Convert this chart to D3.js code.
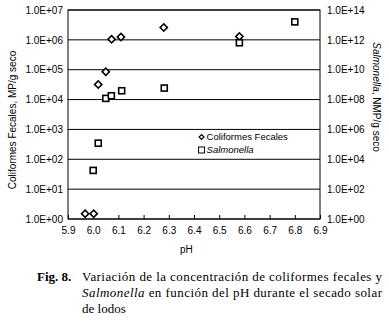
<!DOCTYPE html>
<html>
<head>
<meta charset="utf-8">
<script src="https://cdn.jsdelivr.net/npm/d3@7"></script>
<style>
  body { margin: 0; background: #fff; }
  #chart { width: 389px; height: 323px; }
  svg text { font-family: "Liberation Sans", Arial, sans-serif; fill: #000; }
  svg text.caption { font-family: "Liberation Serif", "Times New Roman", serif; font-size: 13px; }
</style>
</head>
<body>
<div id="chart"></div>
<script>
// pH and counts
const coliPH = [5.968, 6.002, 6.02, 6.05, 6.073, 6.11, 6.28, 6.58];
const coliVal = [1.5, 1.5, 3.2e4, 8.5e4, 1.05e6, 1.25e6, 2.6e6, 1.3e6];
const salmPH = [6.0, 6.02, 6.05, 6.072, 6.113, 6.282, 6.58, 6.80];
const salmVal = [1.8e3, 1.2e5, 1.2e8, 1.8e8, 3.9e8, 5.9e8, 6.4e11, 1.6e13];
const xTicks = [5.9, 6.0, 6.1, 6.2, 6.3, 6.4, 6.5, 6.6, 6.7, 6.8, 6.9];
const leftTicks = [1e0, 1e1, 1e2, 1e3, 1e4, 1e5, 1e6, 1e7];
const rightTicks = [1e0, 1e2, 1e4, 1e6, 1e8, 1e10, 1e12, 1e14];

const width = 389, height = 323;
const margin = { top: 10, left: 68, right: 69, bottom: 104 };
const plotW = width - margin.left - margin.right;
const plotH = height - margin.top - margin.bottom;

const svg = d3.select("#chart").append("svg")
  .attr("width", width)
  .attr("height", height);

const g = svg.append("g")
  .attr("transform", `translate(${margin.left},${margin.top})`);

const x = d3.scaleLinear().domain([5.9, 6.9]).range([0, plotW]);
const yL = d3.scaleLog().domain([1, 1e7]).range([plotH, 0]);
const yR = d3.scaleLog().domain([1, 1e14]).range([plotH, 0]);

const sci = d => {
  const e = Math.round(Math.log10(d));
  return "1.0E+" + (e < 10 ? "0" + e : e);
};

// gridlines
g.selectAll(".grid").data(leftTicks).enter().append("line")
  .attr("x1", 0).attr("x2", plotW)
  .attr("y1", d => yL(d)).attr("y2", d => yL(d))
  .attr("stroke", "#000").attr("stroke-width", 1);

// plot frame
g.append("rect").attr("width", plotW).attr("height", plotH)
  .attr("fill", "none").attr("stroke", "#000").attr("stroke-width", 1);

// x axis, ticks pointing inward
const xAxis = g.append("g").attr("transform", `translate(0,${plotH})`)
  .call(d3.axisBottom(x).tickValues(xTicks).tickFormat(d3.format(".1f")).tickSizeInner(-4).tickSizeOuter(0).tickPadding(8));
xAxis.select(".domain").remove();
xAxis.selectAll("text").style("font-size", "10px");

const lAxis = g.append("g")
  .call(d3.axisLeft(yL).tickValues(leftTicks).tickFormat(sci).tickSize(0).tickPadding(5));
lAxis.select(".domain").remove();
lAxis.selectAll("text").style("font-size", "10px");

const rAxis = g.append("g").attr("transform", `translate(${plotW},0)`)
  .call(d3.axisRight(yR).tickValues(rightTicks).tickFormat(sci).tickSize(0).tickPadding(7));
rAxis.select(".domain").remove();
rAxis.selectAll("text").style("font-size", "10px");

// axis titles
g.append("text")
  .attr("transform", `translate(${12 - margin.left},${110}) rotate(-90)`)
  .attr("text-anchor", "middle").attr("dy", "0.35em")
  .style("font-size", "10px")
  .text("Coliformes Fecales, MP/g seco");

const rt = g.append("text")
  .attr("transform", `translate(${plotW + 56},${87}) rotate(90)`)
  .attr("text-anchor", "middle").attr("dy", "0.35em")
  .style("font-size", "10px");
rt.append("tspan").style("font-style", "italic").text("Salmonella");
rt.append("tspan").text(", NMP/g seco");

g.append("text")
  .attr("x", x(6.37)).attr("y", plotH + 34)
  .attr("text-anchor", "middle")
  .style("font-size", "10px")
  .text("pH");

// markers: diamonds are squares turned 45 degrees
const diamond = d3.symbol().type(d3.symbolSquare).size(26);
g.selectAll(".coli").data(coliPH).enter().append("path")
  .attr("class", "coli")
  .attr("d", diamond)
  .attr("transform", (d, i) => `translate(${x(d)},${yL(coliVal[i])}) rotate(45)`)
  .attr("fill", "#fff").attr("stroke", "#000").attr("stroke-width", 1.6);

const sq = 6;
g.selectAll(".salm").data(salmPH).enter().append("rect")
  .attr("class", "salm")
  .attr("x", d => x(d) - sq / 2)
  .attr("y", (d, i) => yR(salmVal[i]) - sq / 2)
  .attr("width", sq).attr("height", sq)
  .attr("fill", "#fff").attr("stroke", "#000").attr("stroke-width", 1.6);

// legend
const leg = g.append("g").attr("transform", `translate(${x(6.43)},${127})`);
leg.append("path").attr("d", d3.symbol().type(d3.symbolSquare).size(12))
  .attr("transform", "rotate(45)")
  .attr("fill", "#fff").attr("stroke", "#000").attr("stroke-width", 1.2);
leg.append("text").attr("x", 5).attr("dy", "0.35em").style("font-size", "9.5px").text("Coliformes Fecales");
leg.append("rect").attr("x", -3).attr("y", 10).attr("width", 6).attr("height", 6)
  .attr("fill", "#fff").attr("stroke", "#000").attr("stroke-width", 1);
leg.append("text").attr("x", 5).attr("y", 13).attr("dy", "0.35em").style("font-size", "9.5px")
  .style("font-style", "italic").text("Salmonella");

// caption
svg.append("text").attr("class", "caption").attr("x", 37).attr("y", 281)
  .style("font-weight", "bold").text("Fig. 8.");
svg.append("text").attr("class", "caption").attr("x", 82).attr("y", 281)
  .attr("textLength", 300).text("Variación de la concentración de coliformes fecales y");
const l2 = svg.append("text").attr("class", "caption").attr("x", 82).attr("y", 297)
  .attr("textLength", 300);
l2.append("tspan").style("font-style", "italic").text("Salmonella");
l2.append("tspan").text(" en función del pH durante el secado solar");
svg.append("text").attr("class", "caption").attr("x", 82).attr("y", 313).text("de lodos");
</script>
</body>
</html>
